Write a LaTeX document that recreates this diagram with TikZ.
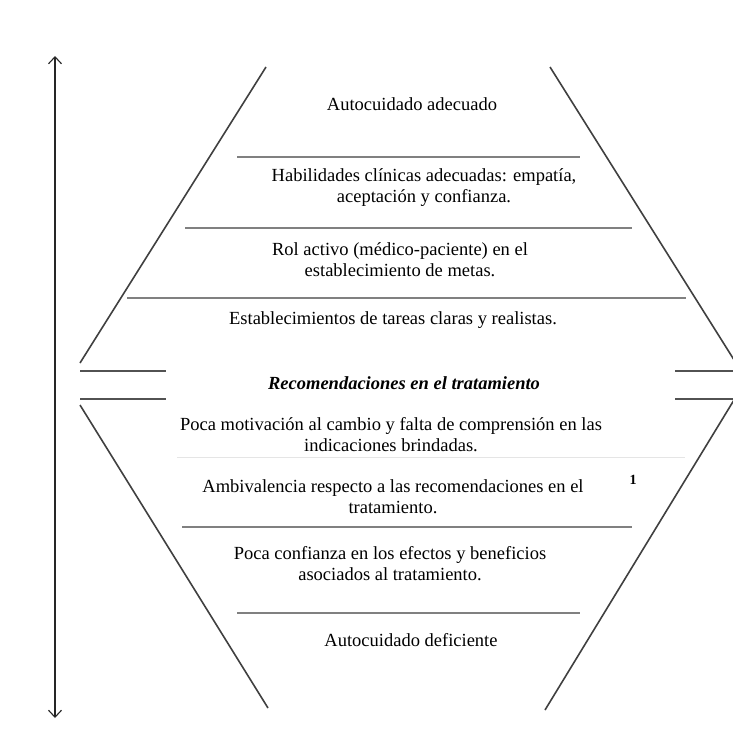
\documentclass[tikz,border=0pt]{standalone}
\usepackage{fontspec}
\setmainfont{Liberation Serif}
\usetikzlibrary{arrows.meta}
\newcommand\txtfont{\fontsize{18.5}{21}\selectfont}
\tikzset{
  diag/.style={draw=black!75, line width=1.6pt},
  sepline/.style={draw=black!50, line width=1.1pt},
  faintline/.style={draw=black!10, line width=1pt},
  midline/.style={draw=black!68, line width=1.3pt},
  txt/.style={align=center, font=\txtfont, inner sep=0pt},
  axis/.style={draw=black!85, line width=1.1pt, {Straight Barb[length=7pt,width=13pt]}-{Straight Barb[length=7pt,width=13pt]}}
}
\begin{document}
\begin{tikzpicture}[x=1pt,y=-1pt]
\useasboundingbox (0,0) rectangle (732,736);
% vertical double arrow
\coordinate (axtop) at (55,56);
\coordinate (axbot) at (55,718);
\draw[axis] (axbot) -- (axtop);
% diagonals
\coordinate (ult) at (266,67);
\coordinate (ulb) at (80,363);
\coordinate (urt) at (550,67);
\coordinate (urb) at (736,363);
\coordinate (llt) at (80,405);
\coordinate (llb) at (268,708);
\coordinate (lrt) at (734,400);
\coordinate (lrb) at (545,710);
\draw[diag] (ult) -- (ulb);
\draw[diag] (urt) -- (urb);
\draw[diag] (llt) -- (llb);
\draw[diag] (lrt) -- (lrb);
% middle pairs
\coordinate (ml1a) at (80,371); \coordinate (ml1b) at (166,371);
\coordinate (ml2a) at (80,399); \coordinate (ml2b) at (166,399);
\coordinate (mr1a) at (675,371); \coordinate (mr1b) at (733,371);
\coordinate (mr2a) at (675,399); \coordinate (mr2b) at (733,399);
\draw[midline] (ml1a) -- (ml1b);
\draw[midline] (ml2a) -- (ml2b);
\draw[midline] (mr1a) -- (mr1b);
\draw[midline] (mr2a) -- (mr2b);
% separators
\coordinate (s1a) at (237,157); \coordinate (s1b) at (580,157);
\coordinate (s2a) at (185,228); \coordinate (s2b) at (632,228);
\coordinate (s3a) at (127,298); \coordinate (s3b) at (686,298);
\coordinate (s4a) at (177,457); \coordinate (s4b) at (685,457);
\coordinate (s5a) at (182,527); \coordinate (s5b) at (632,527);
\coordinate (s6a) at (237,613); \coordinate (s6b) at (580,613);
\draw[sepline] (s1a) -- (s1b);
\draw[sepline] (s2a) -- (s2b);
\draw[sepline] (s3a) -- (s3b);
\draw[faintline] (s4a) -- (s4b);
\draw[sepline] (s5a) -- (s5b);
\draw[sepline] (s6a) -- (s6b);
% texts
\node[txt] (a1) at (412,104) {Autocuidado adecuado};
\node[txt] (a2) at (424,188) {Habilidades clínicas adecuadas: empatía,\\aceptación y confianza.};
\node[txt] (a3) at (400,260) {Rol activo (médico-paciente) en el\\establecimiento de metas.};
\node[txt] (a4) at (393,320) {Establecimientos de tareas claras y realistas.};
\node[txt, font=\txtfont\bfseries\itshape] (a5) at (404,383) {Recomendaciones en el tratamiento};
\node[txt] (b1) at (391,435) {Poca motivación al cambio y falta de comprensión en las\\indicaciones brindadas.};
\node[txt] (b2) at (393,497) {Ambivalencia respecto a las recomendaciones en el\\tratamiento.};
\node[txt] (b3) at (390,564) {Poca confianza en los efectos y beneficios\\asociados al tratamiento.};
\node[txt] (b4) at (411,640) {Autocuidado deficiente};
\node[inner sep=0pt, font=\fontsize{14}{16}\selectfont\bfseries] (one) at (633,480) {1};
\end{tikzpicture}
\end{document}
